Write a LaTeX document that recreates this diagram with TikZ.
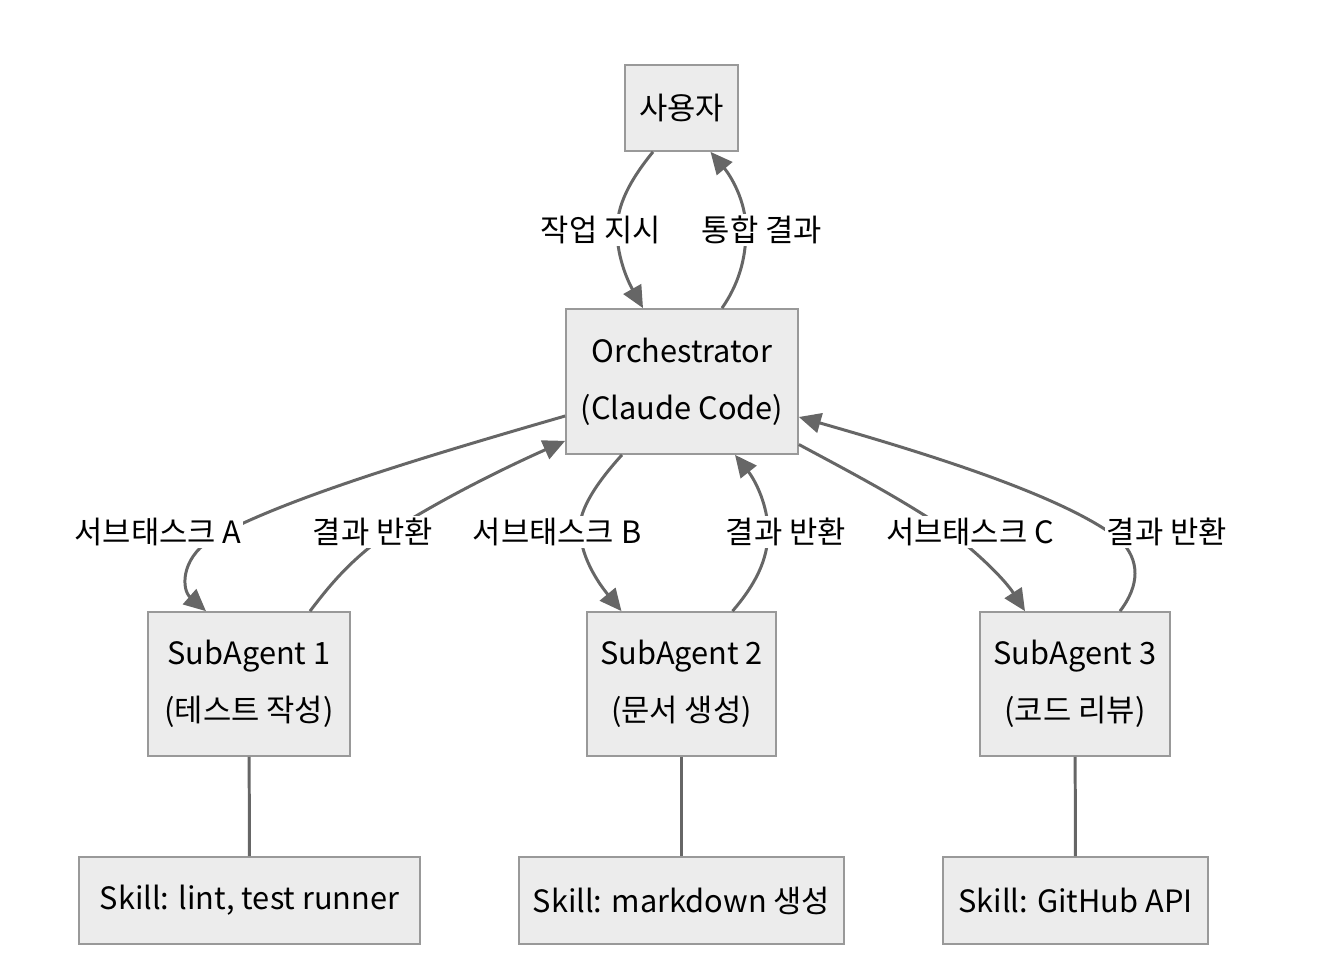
\documentclass[tikz,border=0pt]{standalone}
\usepackage{fontspec}
\setmainfont{Noto Sans CJK KR}
\usetikzlibrary{arrows.meta,calc}
\definecolor{boxfill}{HTML}{ECECEC}
\definecolor{boxline}{HTML}{999999}
\definecolor{edgecol}{HTML}{666666}

\begin{document}
\begin{tikzpicture}[x=0.02cm,y=-0.02cm,
  box/.style={draw=boxline,fill=boxfill,line width=1pt,inner sep=0pt,align=center,
    font=\fontsize{17.5}{32.5}\selectfont},
  lbl/.style={fill=white,inner sep=1pt,font=\fontsize{17.5}{20}\selectfont},
  flow/.style={draw=edgecol,line width=1.7pt,-{Triangle[length=0.44cm,width=0.4cm]}},
  link/.style={draw=edgecol,line width=1.7pt}]
\useasboundingbox (0,0) rectangle (1342,976);
% boxes
\node[box,minimum width=2.26cm,minimum height=1.72cm] (user) at (681.5,108) {사용자};
\node[box,minimum width=4.64cm,minimum height=2.9cm] (orch) at (682,381.5) {Orchestrator\\(Claude Code)};
\node[box,minimum width=4.04cm,minimum height=2.88cm] (sa1) at (249,684) {SubAgent 1\\(테스트 작성)};
\node[box,minimum width=3.78cm,minimum height=2.88cm] (sa2) at (681.5,684) {SubAgent 2\\(문서 생성)};
\node[box,minimum width=3.8cm,minimum height=2.88cm] (sa3) at (1075,684) {SubAgent 3\\(코드 리뷰)};
\node[box,minimum width=6.82cm,minimum height=1.74cm] (sk1) at (249.5,900.5) {Skill: lint, test runner};
\node[box,minimum width=6.5cm,minimum height=1.74cm] (sk2) at (681.5,900.5) {Skill: markdown 생성};
\node[box,minimum width=5.3cm,minimum height=1.74cm] (sk3) at (1075.5,900.5) {Skill: GitHub API};
% user <-> orchestrator
\draw[flow] ($(user.south)+(-28.5,0)$) .. controls (630,180) and (617,205) .. (617,230)
  .. controls (617,260) and (630,285) .. ($(orch.north)+(-39,0)$);
\draw[flow] ($(orch.north)+(40,0)$) .. controls (738,285) and (746,260) .. (746,230)
  .. controls (746,200) and (730,175) .. ($(user.south)+(29,0)$);
% orchestrator <-> subagents
\draw[flow] ($(orch.west)+(0,34.5)$) .. controls (420,458) and (280,500) .. (210,540)
  .. controls (180,560) and (182,590) .. ($(sa1.north)+(-43,0)$);
\draw[flow] ($(sa1.north)+(61,0)$) .. controls (330,585) and (350,560) .. (390,532)
  .. controls (440,500) and (500,470) .. ($(orch.south west)+(0,-14)$);
\draw[flow] ($(orch.south)+(-60,0)$) .. controls (590,490) and (578,515) .. (580,532)
  .. controls (582,560) and (600,585) .. ($(sa2.north)+(-60,0)$);
\draw[flow] ($(sa2.north)+(51,0)$) .. controls (755,585) and (768,560) .. (768,532)
  .. controls (768,505) and (755,480) .. ($(orch.south)+(53,0)$);
\draw[flow] ($(orch.east)+(0,63)$) .. controls (850,472) and (900,498) .. (950,532)
  .. controls (980,555) and (1005,580) .. ($(sa3.north)+(-50,0)$);
\draw[flow] ($(sa3.north)+(45,0)$) .. controls (1140,585) and (1140,560) .. (1120,540)
  .. controls (1070,500) and (950,460) .. ($(orch.east)+(0,35.5)$);
% subagents -- skills
\draw[link] (sa1) -- (sk1);
\draw[link] (sa2) -- (sk2);
\draw[link] (sa3) -- (sk3);
% edge labels
\node[lbl] (l1) at (601,230) {작업 지시};
\node[lbl] (l2) at (762,230) {통합 결과};
\node[lbl] (l3) at (158,532) {서브태스크 A};
\node[lbl] (l4) at (373,532) {결과 반환};
\node[lbl] (l5) at (557,532) {서브태스크 B};
\node[lbl] (l6) at (786,532) {결과 반환};
\node[lbl] (l7) at (970,532) {서브태스크 C};
\node[lbl] (l8) at (1167,532) {결과 반환};
\end{tikzpicture}
\end{document}
